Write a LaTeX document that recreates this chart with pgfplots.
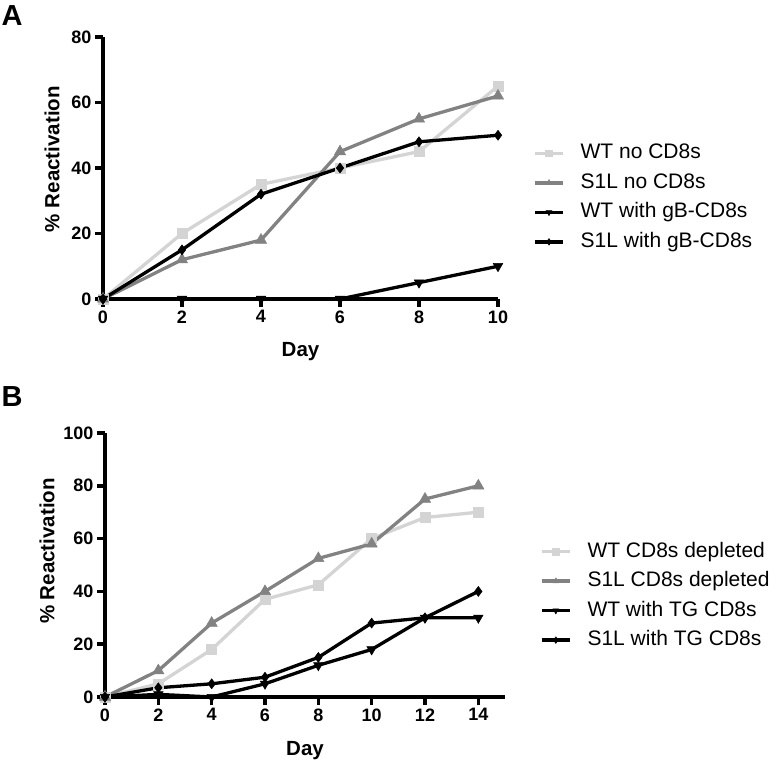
\documentclass[border=0pt]{standalone}
\usepackage{fontspec}
\setmainfont{Liberation Sans}
\usepackage{pgfplots}
\pgfplotsset{compat=1.18}

\definecolor{lgray}{RGB}{212,212,212}
\definecolor{mgray}{RGB}{130,130,130}

\newcommand{\tickfs}{\fontsize{18}{20}\selectfont\bfseries}
\newcommand{\labfs}{\fontsize{20.5}{22}\selectfont\bfseries}
\newcommand{\legfs}{\fontsize{21}{23}\selectfont}

\pgfplotsset{
  gp/.style={
    scale only axis,
    axis lines=left,
    axis line style={line width=4pt,-},
    every tick/.style={line width=3.5pt,black},
    tick align=outside,
    major tick length=8pt,
    tick label style={font=\tickfs},
    /pgf/number format/assume math mode=true,
    label style={font=\labfs},
    legend cell align=left,
    legend style={draw=none, fill=none, inner sep=0pt, row sep=10.5pt, column sep=16pt,
      nodes={inner sep=0pt, text height=15pt, text depth=4pt, font=\legfs}},
    legend image code/.code={\draw[mark repeat=2,mark phase=2,##1,mark size=3.3pt] plot coordinates {(0pt,0pt) (14pt,0pt) (28pt,0pt)};},
    clip=false,
  },
  s1/.style={color=lgray, line width=3.3pt, mark=square*, mark size=5pt, mark options={solid, line width=0.5pt}},
  s2/.style={color=mgray, line width=3.3pt, mark=triangle*, mark size=6.5pt, mark options={solid, line width=0.5pt}},
  s3/.style={color=black, line width=3.3pt, mark=triangle*, mark size=5.5pt, mark options={solid, rotate=180, line width=0.5pt}},
  s4/.style={color=black, line width=3.3pt, mark=diamond*, mark size=5pt, mark options={solid, line width=0.5pt}},
}

\begin{document}
\begin{tikzpicture}[x=1pt,y=1pt]
\path[use as bounding box] (0,0) rectangle (770,763);
\node[font=\fontsize{29}{31}\selectfont\bfseries, anchor=center] at (12,747) {A};
\node[font=\fontsize{29}{31}\selectfont\bfseries, anchor=center] at (12,366) {B};

\begin{axis}[gp,
  at={(103pt,464pt)}, anchor=south west,
  width=395pt, height=262pt,
  xmin=0, xmax=10, ymin=0, ymax=80,
  xtick={0,2,4,6,8,10}, ytick={0,20,40,60,80},
  xlabel={Day}, ylabel={\% Reactivation},
  xlabel style={at={(axis description cs:0.5,-0.221)}, anchor=base},
  ylabel style={at={(axis description cs:-0.129,0.534)}, anchor=center},
  legend style={at={(axis description cs:1.089,0.387)}, anchor=west},
]
\addplot[s1] coordinates {(0,0) (2,20) (4,35) (6,40) (8,45) (10,65)};
\addlegendentry{WT no CD8s}
\addplot[s2] coordinates {(0,0) (2,12) (4,18) (6,45) (8,55) (10,62)};
\addlegendentry{S1L no CD8s}
\addplot[s3] coordinates {(0,0) (2,0) (4,0) (6,0) (8,5) (10,10)};
\addlegendentry{WT with gB-CD8s}
\addplot[s4] coordinates {(0,0) (2,15) (4,32) (6,40) (8,48) (10,50)};
\addlegendentry{S1L with gB-CD8s}
\end{axis}

\begin{axis}[gp,
  at={(105pt,66pt)}, anchor=south west,
  width=400pt, height=264pt,
  xmin=0, xmax=15, ymin=0, ymax=100,
  xtick={0,2,4,6,8,10,12,14}, ytick={0,20,40,60,80,100},
  xlabel={Day}, ylabel={\% Reactivation},
  xlabel style={at={(axis description cs:0.5,-0.223)}, anchor=base},
  ylabel style={at={(axis description cs:-0.145,0.553)}, anchor=center},
  legend style={at={(axis description cs:1.0875,0.383)}, anchor=west},
]
\addplot[s1] coordinates {(0,0) (2,5) (4,18) (6,37) (8,42.5) (10,60) (12,68) (14,70)};
\addlegendentry{WT CD8s depleted}
\addplot[s2] coordinates {(0,0) (2,10) (4,28) (6,40) (8,52.5) (10,58) (12,75) (14,80)};
\addlegendentry{S1L CD8s depleted}
\addplot[s3] coordinates {(0,0) (2,1) (4,0) (6,5) (8,12) (10,18) (12,30) (14,30)};
\addlegendentry{WT with TG CD8s}
\addplot[s4] coordinates {(0,0) (2,3.5) (4,5) (6,7.5) (8,15) (10,28) (12,30) (14,40)};
\addlegendentry{S1L with TG CD8s}
\end{axis}
\end{tikzpicture}
\end{document}
